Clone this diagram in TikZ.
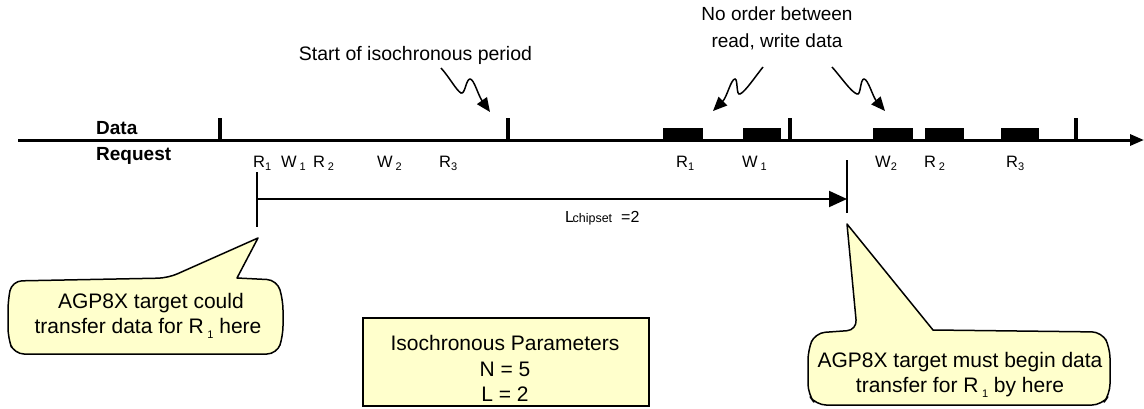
\documentclass[tikz,border=0pt]{standalone}
\usepackage{fontspec}
\setmainfont{Liberation Sans}
\usetikzlibrary{arrows.meta}
\definecolor{note}{RGB}{255,255,204}
\newcommand{\lo}[1]{\raisebox{-0.45ex}{\fontsize{11}{11}\selectfont #1}}
\begin{document}
\begin{tikzpicture}[x=1pt,y=-1pt,
  lbl/.style={inner sep=0pt, font=\fontsize{16.5}{17}\selectfont},
  head/.style={inner sep=0pt, font=\fontsize{19}{19}\selectfont\bfseries},
  big/.style={inner sep=0pt, align=center, font=\fontsize{21}{25.5}\selectfont},
  ann/.style={inner sep=0pt, align=center, font=\fontsize{19}{27}\selectfont},
  blk/.style={fill=black, inner sep=0pt, minimum height=12pt, minimum width=40pt},
  tickmark/.style={line width=4pt},
  callout/.style={draw=black, line width=1.5pt, fill=note, line join=round},
  squig/.style={line width=1.5pt, -{Triangle[length=14pt,width=12pt]}},
  bracket/.style={line width=2pt}
]
\useasboundingbox (0,0) rectangle (1144,408);

% timeline
\coordinate (tl0) at (18,140);
\coordinate (tl1) at (1144,140);
\draw[line width=3pt, -{Triangle[length=14pt,width=11pt]}] (tl0) -- (tl1);
\node[head, anchor=base west] (data) at (96,134) {Data};
\node[head, anchor=base west] (req) at (96,160) {Request};

% period ticks
\foreach \x in {220,508,790,1076} \draw[tickmark] (\x,118) -- (\x,140);

% data blocks
\node[blk] (bR1) at (683,134) {};
\node[blk, minimum width=38pt] (bW1) at (762,134) {};
\node[blk] (bW2) at (893,134) {};
\node[blk, minimum width=39pt] (bR2) at (944.5,134) {};
\node[blk, minimum width=38pt] (bR3) at (1020,134) {};

% request labels
\node[lbl, anchor=base west] (q1) at (253,167) {R\lo{1}};
\node[lbl, anchor=base west] (q2) at (281,167) {W\,\lo{1}};
\node[lbl, anchor=base west] (q3) at (313,167) {R\,\lo{2}};
\node[lbl, anchor=base west] (q4) at (377,167) {W\,\lo{2}};
\node[lbl, anchor=base west] (q5) at (439,167) {R\lo{3}};
\node[lbl, anchor=base west] (d1) at (676,167) {R\lo{1}};
\node[lbl, anchor=base west] (d2) at (742,167) {W\,\lo{1}};
\node[lbl, anchor=base west] (d3) at (875,167) {W\lo{2}};
\node[lbl, anchor=base west] (d4) at (924,167) {R\,\lo{2}};
\node[lbl, anchor=base west] (d5) at (1006,167) {R\lo{3}};

% latency bracket
\coordinate (lA) at (257,199);
\coordinate (lB) at (847,199);
\draw[bracket] (257,172) -- (257,227);
\draw[bracket] (847,160) -- (847,213);
\draw[bracket, -{Triangle[length=18pt,width=16pt]}] (lA) -- (lB);
\node[inner sep=0pt, anchor=base west, font=\fontsize{16}{16}\selectfont] (lchip) at (565,222)
  {L\kern-1.5pt{\fontsize{12.5}{12.5}\selectfont chipset}\hspace{9pt}=2};

% annotations
\node[ann, font=\fontsize{19.5}{20}\selectfont] (start) at (415.5,55) {Start of isochronous period};
\node[ann] (noorder) at (777,28.5) {No order between\\read, write data};
\draw[squig] (441,68) .. controls (450,78) and (456,90) .. (461,93)
  .. controls (465,95) and (466,79) .. (470,79)
  .. controls (474,79) and (478,95) .. (490,112);
\draw[squig] (763,67) .. controls (755,77) and (745,92) .. (740,94)
  .. controls (736,96) and (738,79) .. (735,79)
  .. controls (731,79) and (727,97) .. (713,111);
\draw[squig] (832,67) .. controls (841,77) and (851,92) .. (857,94)
  .. controls (861,96) and (860,79) .. (864,79)
  .. controls (868,79) and (873,97) .. (885,111);

% left callout
\draw[callout] (8,300) [rounded corners=10pt] -- (12,281) -- (168,278) [sharp corners] -- (258,238) -- (237,278)
  [rounded corners=10pt] -- (277,280) -- (283,300) -- (283,336) -- (277,354) -- (14,354) -- (8,338) -- cycle;
\node[big] (cl) at (148,316) {\ AGP8X target could\\transfer data for R\,\lo{1} here};

% parameters box
\node[draw, line width=2pt, fill=note, minimum width=286pt, minimum height=88pt, inner sep=0pt] (isobox) at (506,362) {};
\node[big] (iso) at (505,368.5) {Isochronous Parameters\\N = 5\\L = 2};

% right callout
\draw[callout] (808,350) [rounded corners=10pt] -- (815,333) -- (857,330) [sharp corners] -- (847,224) -- (933,330)
  [rounded corners=10pt] -- (1102,332) -- (1110,348) -- (1110,394) -- (1102,405) -- (816,405) -- (808,394) -- cycle;
\node[big] (cr) at (960,375) {AGP8X target must begin data\\transfer for R\,\lo{1} by here};
\end{tikzpicture}
\end{document}
